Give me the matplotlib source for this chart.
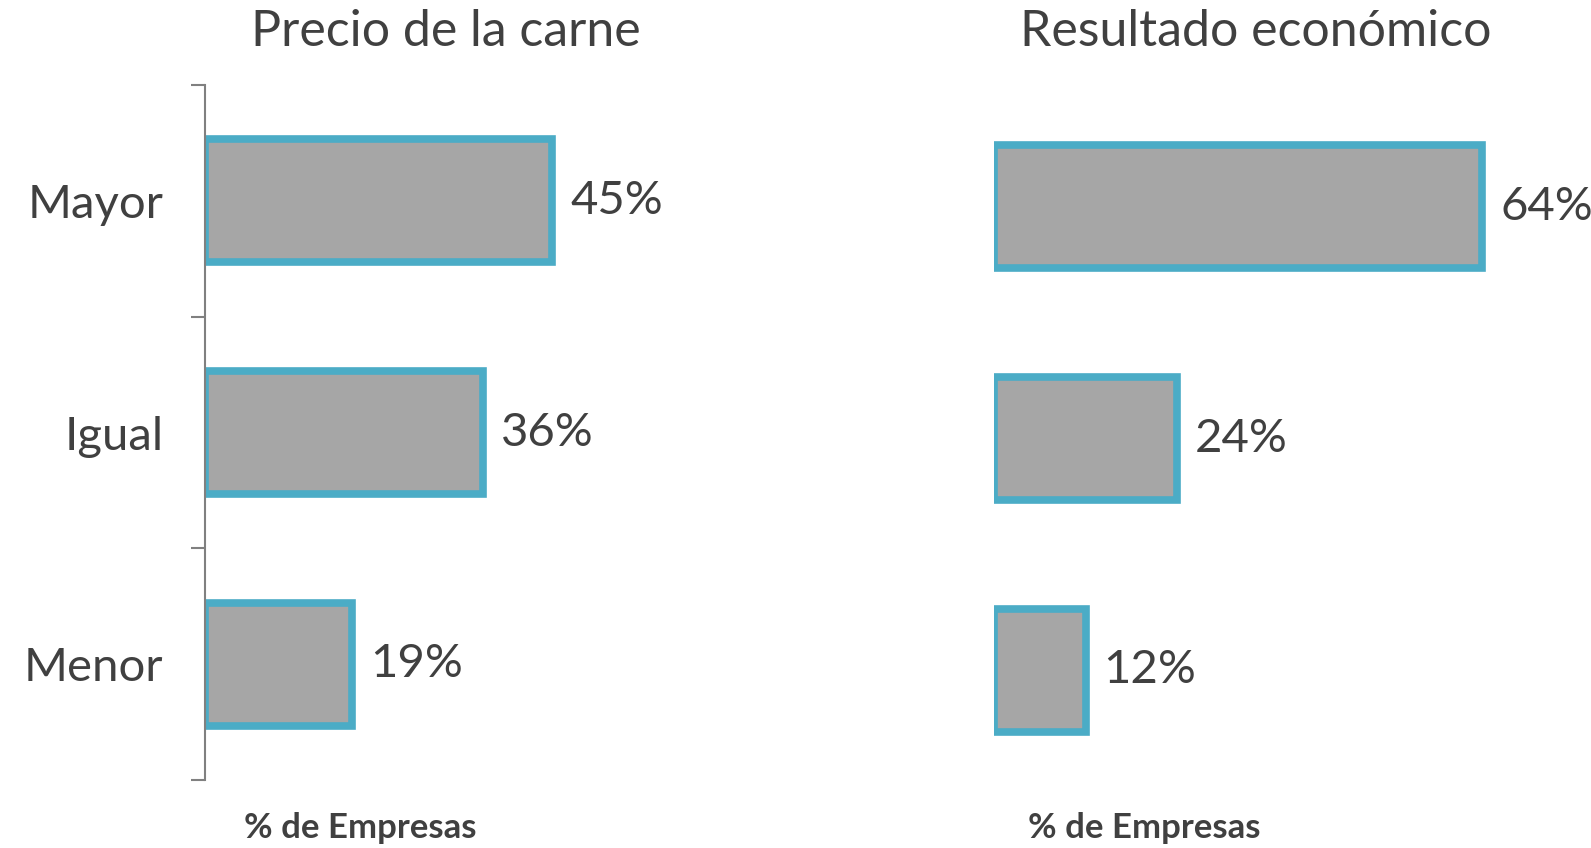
import matplotlib.pyplot as plt
from matplotlib.ticker import FixedLocator

plt.rcParams['font.family'] = ['Lato', 'DejaVu Sans']

# datos
categorias = ['Mayor', 'Igual', 'Menor']
precio_carne = [45, 36, 19]
resultado_economico = [64, 24, 12]
titulos = ['Precio de la carne', 'Resultado económico']

gris = '#A6A6A6'
azul = '#4BACC6'
texto = '#404040'

W, H = 1591, 848
fig = plt.figure(figsize=(W / 100, H / 100), dpi=100)

# ejes en coordenadas de pixel
ax1 = fig.add_axes([205 / W, 1 - 780 / H, 463 / W, 695 / H])
ax2 = fig.add_axes([994 / W, 1 - 786 / H, 580 / W, 695 / H])

for ax, valores, titulo, xmax, izq in [(ax1, precio_carne, titulos[0], 60, True),
                                       (ax2, resultado_economico, titulos[1], 76, False)]:
    y = range(len(categorias))
    barras = ax.barh(y, valores, height=0.53, color=gris, edgecolor=azul, linewidth=5.5)
    ax.bar_label(barras, labels=[f'{v}%' for v in valores], padding=13,
                 fontsize=34, color=texto)
    ax.set_xlim(0, xmax)
    ax.set_ylim(len(categorias) - 0.5, -0.5)
    for s in ['top', 'right', 'bottom']:
        ax.spines[s].set_visible(False)
    ax.set_xticks([])
    if izq:
        ax.spines['left'].set_color('#808080')
        ax.spines['left'].set_linewidth(1.5)
        ax.set_yticks(list(y))
        ax.set_yticklabels(categorias, fontsize=34, color=texto)
        ax.tick_params(axis='y', which='major', length=0, pad=30)
        ax.yaxis.set_minor_locator(FixedLocator([-0.5, 0.5, 1.5, 2.5]))
        ax.tick_params(axis='y', which='minor', length=10, width=1.5, color='#808080')
    else:
        ax.spines['left'].set_visible(False)
        ax.set_yticks([])
    ax.patch.set_alpha(0)

# titulos y etiquetas inferiores
fig.text(446 / W, 1 - 32 / H, titulos[0], ha='center', va='center', fontsize=36, color=texto)
fig.text(1256 / W, 1 - 32 / H, titulos[1], ha='center', va='center', fontsize=36, color=texto)
fig.text(360 / W, 1 - 828 / H, '% de Empresas', ha='center', va='center', fontsize=25,
         fontweight='bold', color=texto)
fig.text(1144 / W, 1 - 828 / H, '% de Empresas', ha='center', va='center', fontsize=25,
         fontweight='bold', color=texto)

plt.savefig('out.png', dpi=100, facecolor='white')
